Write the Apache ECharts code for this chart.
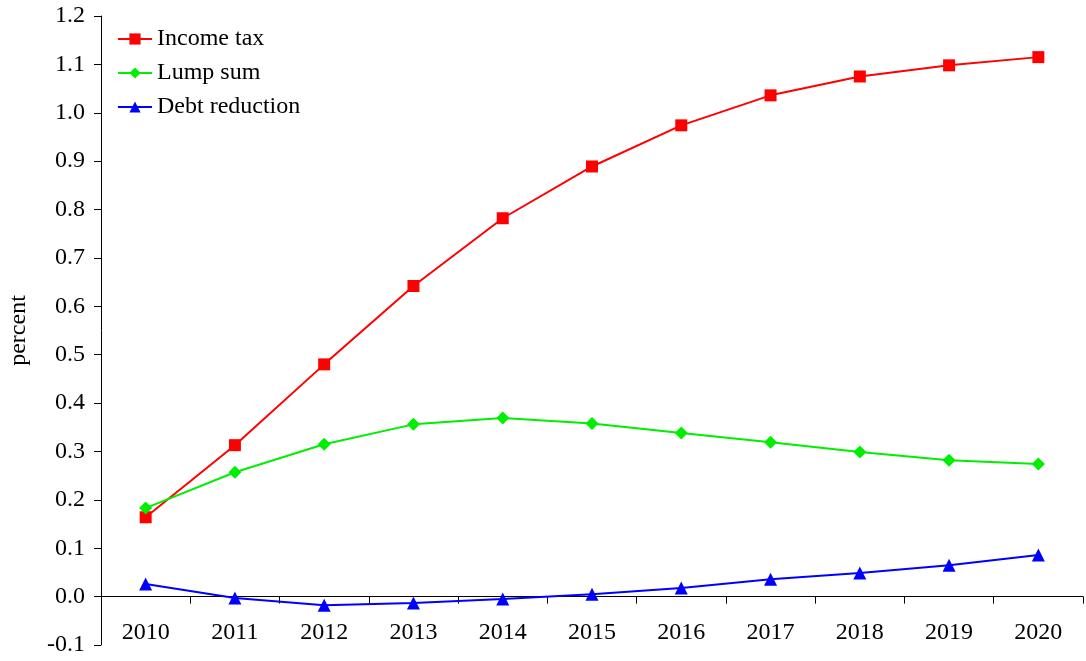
<!DOCTYPE html>
<html>
<head>
<meta charset="utf-8">
<script src="https://cdn.jsdelivr.net/npm/echarts@6/dist/echarts.min.js"></script>
<style>html,body{margin:0;padding:0;background:#fff;}#c{width:1086px;height:661px;}</style>
</head>
<body>
<div id="c"></div>
<script>
const years = ['2010','2011','2012','2013','2014','2015','2016','2017','2018','2019','2020'];
const incomeTax = [0.164, 0.313, 0.480, 0.642, 0.782, 0.889, 0.974, 1.036, 1.075, 1.098, 1.115];
const lumpSum = [0.183, 0.257, 0.315, 0.356, 0.369, 0.358, 0.338, 0.319, 0.299, 0.282, 0.274];
const debtReduction = [0.026, -0.003, -0.018, -0.013, -0.005, 0.005, 0.018, 0.036, 0.049, 0.065, 0.086];

const font = '"Liberation Serif", "Times New Roman", serif';
const chart = echarts.init(document.getElementById('c'));
chart.setOption({
  animation: false,
  backgroundColor: '#fff',
  grid: { left: 101, top: 16, right: 3, bottom: 16, containLabel: false, outerBoundsMode: 'none' },
  legend: {
    orient: 'vertical', left: 112, top: 22, itemGap: 10, itemWidth: 34, itemHeight: 14,
    textStyle: { fontFamily: font, fontSize: 24, color: '#000' },
    data: ['Income tax', 'Lump sum', 'Debt reduction']
  },
  xAxis: {
    type: 'category', data: years, boundaryGap: true,
    axisLine: { onZero: true, lineStyle: { color: '#000', width: 1 } },
    axisTick: { show: true, inside: false, length: 7, lineStyle: { color: '#000' } },
    axisLabel: { fontFamily: font, fontSize: 24, color: '#000', margin: -24 },
    splitLine: { show: false }
  },
  yAxis: {
    type: 'value', min: -0.1, max: 1.2, interval: 0.1,
    name: 'percent', nameLocation: 'middle', nameGap: 70, nameRotate: 90,
    nameTextStyle: { fontFamily: font, fontSize: 24, color: '#000' },
    axisLine: { show: true, lineStyle: { color: '#000', width: 1 } },
    axisTick: { show: true, length: 7, lineStyle: { color: '#000' } },
    axisLabel: { fontFamily: font, fontSize: 24, color: '#000', margin: 16,
      formatter: v => v.toFixed(1) },
    splitLine: { show: false }
  },
  series: [
    { name: 'Income tax', type: 'line', data: incomeTax, symbol: 'rect', symbolSize: 12,
      itemStyle: { color: '#ff0000' }, lineStyle: { color: '#ff0000', width: 2 } },
    { name: 'Lump sum', type: 'line', data: lumpSum, symbol: 'diamond', symbolSize: 13,
      itemStyle: { color: '#00ee00' }, lineStyle: { color: '#00ee00', width: 2 } },
    { name: 'Debt reduction', type: 'line', data: debtReduction, symbol: 'triangle', symbolSize: 13,
      itemStyle: { color: '#0000ff' }, lineStyle: { color: '#0000ff', width: 2 } }
  ]
});
</script>
</body>
</html>
